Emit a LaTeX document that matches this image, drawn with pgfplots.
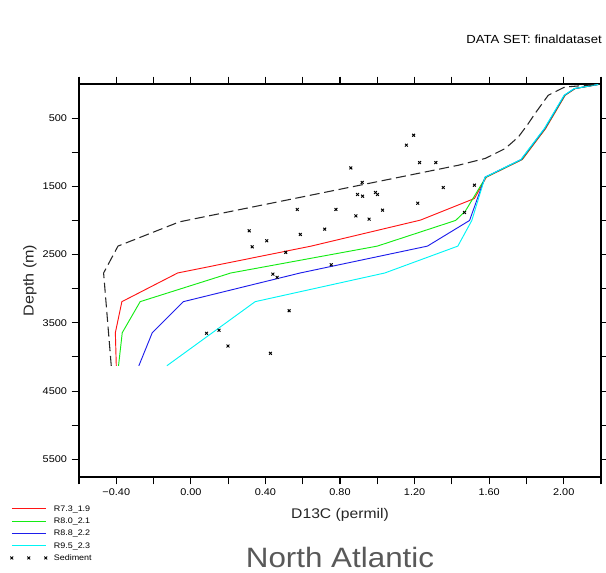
\documentclass[border=0pt]{standalone}
\usepackage{fontspec}
\setmainfont{Liberation Sans}[FakeStretch=1.12]
\usepackage{pgfplots}
\pgfplotsset{compat=1.18}
\definecolor{cred}{RGB}{255,20,20}
\definecolor{cgreen}{RGB}{20,235,20}
\definecolor{cblue}{RGB}{30,30,235}
\definecolor{ccyan}{RGB}{0,245,245}
\definecolor{cdash}{RGB}{40,40,40}
\pgfplotsset{
  linelegend/.style={legend image code/.code={\draw[##1] (0pt,0pt) -- (26pt,0pt);}},
  sedlegend/.style={legend image code/.code={\draw[##1] plot coordinates {(0pt,0pt) (12.75pt,0pt) (25.5pt,0pt)};}},
}
\begin{document}
\begin{tikzpicture}
\path[use as bounding box] (0pt,0pt) rectangle (454.5pt,-429.75pt);
\begin{axis}[
  at={(59.25pt,-63pt)}, anchor=north west,
  scale only axis, width=391.5pt, height=294.75pt,
  xmin=-0.6, xmax=2.2, ymin=0, ymax=5760, y dir=reverse,
  xtick={-0.6,-0.4,-0.2,0,0.2,0.4,0.6,0.8,1.0,1.2,1.4,1.6,1.8,2.0,2.2},
  xticklabels={,−0.40,,0.00,,0.40,,0.80,,1.20,,1.60,,2.00,},
  ytick={500,1000,1500,2000,2500,3000,3500,4000,4500,5000,5500},
  yticklabels={500,,1500,,2500,,3500,,4500,,5500},
  minor tick num=0,
  tick align=outside, major tick length=5.5pt,
  tick style={black, line width=0.8pt},
  axis line style={black, line width=0.9pt},
  ticklabel style={font=\fontsize{7.3}{8}\selectfont},
  /pgf/number format/assume math mode=true,
  xlabel={D13C (permil)}, ylabel={Depth (m)},
  every axis x label/.style={at={(axis description cs:0.5,-0.0967)}, anchor=center, font=\fontsize{10.5}{12}\selectfont, text=black!85},
  every axis y label/.style={at={(axis description cs:-0.0939,0.5)}, rotate=90, anchor=center, font=\fontsize{10.8}{12}\selectfont, text=black!85},
  legend style={at={(axis description cs:-0.132,-0.066)}, anchor=north west,
    draw=none, fill=none, inner sep=0pt, row sep=0.7pt,
    font=\fontsize{6}{7}\selectfont,
    nodes={inner sep=1pt, text height=5pt, text depth=1.5pt},
    /tikz/every odd column/.append style={column sep=4pt}},
  legend cell align=left,
]
\addplot[cred, line width=0.7pt, linelegend] coordinates {
 (-0.400,4130) (-0.405,3645) (-0.370,3190) (-0.071,2770) (0.645,2376)
 (1.231,1995) (1.521,1678) (1.585,1366) (1.778,1107) (1.903,653)
 (2.008,165) (2.062,67) (2.19,5)};
\addlegendentry{R7.3\_1.9}
\addplot[cgreen, line width=0.7pt, linelegend] coordinates {
 (-0.388,4130) (-0.368,3645) (-0.272,3190) (0.214,2770) (1.000,2376)
 (1.420,2000) (1.472,1864) (1.582,1366) (1.775,1107) (1.900,653)
 (2.006,165) (2.060,67) (2.19,5)};
\addlegendentry{R8.0\_2.1}
\addplot[cblue, line width=0.7pt, linelegend] coordinates {
 (-0.279,4130) (-0.207,3645) (-0.040,3190) (0.586,2770) (1.269,2376)
 (1.495,2000) (1.578,1366) (1.772,1107) (1.898,653)
 (2.004,165) (2.058,67) (2.19,5)};
\addlegendentry{R8.8\_2.2}
\addplot[ccyan, line width=0.7pt, linelegend] coordinates {
 (-0.129,4130) (0.345,3190) (1.040,2770) (1.432,2376)
 (1.507,2000) (1.578,1366) (1.770,1107) (1.896,653)
 (2.002,165) (2.056,67) (2.19,5)};
\addlegendentry{R9.5\_2.3}
\addplot[only marks, mark=x, mark size=1.5pt, black, mark options={line width=0.7pt}, sedlegend] coordinates {
 (1.195,751) (1.156,897) (0.858,1230) (1.227,1151) (1.314,1151)
 (0.919,1443) (1.521,1483) (1.354,1517) (0.894,1619) (0.921,1644)
 (0.990,1590) (1.001,1619) (0.571,1839) (0.778,1839) (1.028,1849)
 (1.217,1747) (0.885,1932) (0.956,1981) (1.468,1883) (0.313,2152)
 (0.718,2127) (0.587,2205) (0.407,2298) (0.329,2386) (0.509,2468)
 (0.753,2650) (0.440,2786) (0.463,2834) (0.527,3323) (0.084,3654)
 (0.151,3610) (0.199,3840) (0.427,3947)};
\addlegendentry{Sediment}
\addplot[cdash, line width=0.8pt, dash pattern=on 7.5pt off 3.5pt, forget plot] coordinates {
 (-0.427,4130) (-0.468,2770) (-0.391,2376) (-0.061,2020) (1.436,1190)
 (1.580,1090) (1.686,946) (1.757,776) (1.810,580) (1.846,433)
 (1.917,165) (1.970,92) (2.006,44) (2.19,5)};
\end{axis}
\node[anchor=east, font=\fontsize{8.8}{10}\selectfont, inner sep=0pt] at (451.5pt,-29.6pt) {DATA SET: finaldataset};
\node[font=\fontsize{21}{24}\selectfont, text=black!65, inner sep=0pt] at (255pt,-417.75pt) {North Atlantic};
\end{tikzpicture}
\end{document}
